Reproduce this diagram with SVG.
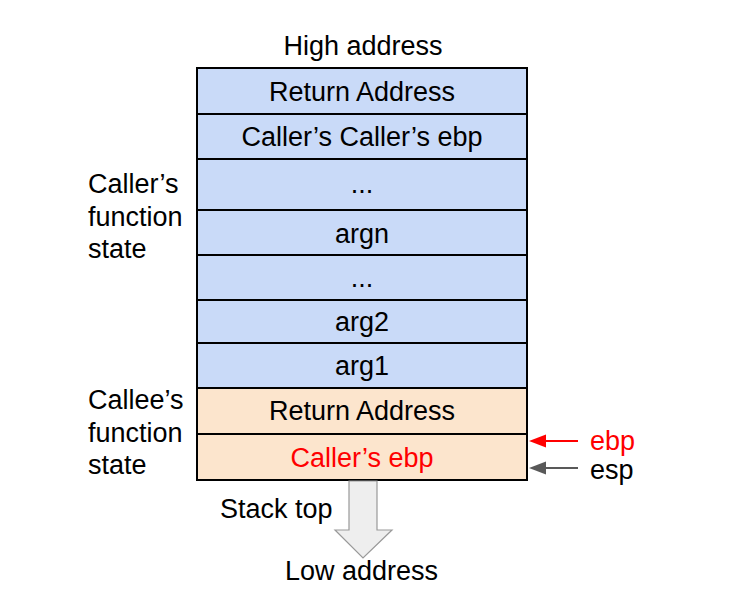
<svg xmlns="http://www.w3.org/2000/svg" width="731" height="612" viewBox="0 0 731 612">
<style>
text{font-family:"Liberation Sans",Arial,sans-serif;font-size:27px;fill:#000}
.c{text-anchor:middle}
.blue{fill:#c9daf8;stroke:#000;stroke-width:2}
.tan{fill:#fce5cd;stroke:#000;stroke-width:2}
.red{fill:#ff0000}
</style>
<rect width="731" height="612" fill="#fff"/>
<text class="c" x="363" y="55">High address</text>
<g id="stack">
<g id="n1"><rect class="blue" x="197" y="68" width="330" height="46"/><text class="c" x="362" y="101">Return Address</text></g>
<g id="n2"><rect class="blue" x="197" y="114" width="330" height="45"/><text class="c" x="362" y="146">Caller’s Caller’s ebp</text></g>
<g id="n3"><rect class="blue" x="197" y="159" width="330" height="51"/><text class="c" x="362" y="193">...</text></g>
<g id="n4"><rect class="blue" x="197" y="210" width="330" height="45"/><text class="c" x="362" y="243">argn</text></g>
<g id="n5"><rect class="blue" x="197" y="255" width="330" height="45"/><text class="c" x="362" y="287">...</text></g>
<g id="n6"><rect class="blue" x="197" y="300" width="330" height="43"/><text class="c" x="362" y="331">arg2</text></g>
<g id="n7"><rect class="blue" x="197" y="343" width="330" height="45"/><text class="c" x="362" y="375">arg1</text></g>
<g id="n8"><rect class="tan" x="197" y="388" width="330" height="46"/><text class="c" x="362" y="420">Return Address</text></g>
<g id="n9"><rect class="tan" x="197" y="434" width="330" height="46"/><text class="c red" x="362" y="467">Caller’s ebp</text></g>
</g>
<g id="labels">
<text x="88" y="193">Caller’s</text>
<text x="88" y="226">function</text>
<text x="88" y="258">state</text>
<text x="88" y="409">Callee’s</text>
<text x="88" y="442">function</text>
<text x="88" y="474">state</text>
<text class="red" x="590" y="450">ebp</text>
<text x="590" y="479">esp</text>
<text x="220" y="518">Stack top</text>
<text x="285" y="580">Low address</text>
</g>
<g id="connectors">
<line x1="578" y1="441" x2="540" y2="441" stroke="#ff0000" stroke-width="2"/>
<path d="M529,441 L546,434.5 L546,447.5 Z" fill="#ff0000"/>
<line x1="578" y1="468" x2="540" y2="468" stroke="#595959" stroke-width="2"/>
<path d="M529,468 L546,461.5 L546,474.5 Z" fill="#595959"/>
<path d="M349,481 L377,481 L377,530 L392,530 L363,558 L335,530 L349,530 Z" fill="#eeeeee" stroke="#999" stroke-width="1.2"/>
</g>
</svg>
